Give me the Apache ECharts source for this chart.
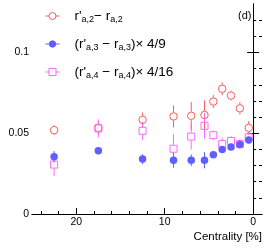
<!DOCTYPE html>
<html>
<head>
<meta charset="utf-8">
<script src="https://cdn.jsdelivr.net/npm/echarts@6/dist/echarts.min.js"></script>
<style>
html,body{margin:0;padding:0;background:#fff;}
#chart{width:266px;height:248px;}
</style>
</head>
<body>
<div id="chart"></div>
<script>
// ---- data ----
const centrality = [22.5, 17.5, 12.5, 9, 7, 5.5, 4.5, 3.5, 2.5, 1.5, 0.5];
const r2Values = [0.0519, 0.0533, 0.0583, 0.0604, 0.0608, 0.0613, 0.0696, 0.0775, 0.0733, 0.0654, 0.0533];
const r2Errors = [0.003, 0.004, 0.0045, 0.0068, 0.0085, 0.009, 0.004, 0.004, 0.003, 0.0038, 0.0042];
const r3Values = [0.0354, 0.0392, 0.0340, 0.0333, 0.0333, 0.0333, 0.0367, 0.0400, 0.0415, 0.0431, 0.0458];
const r3Errors = [0.0036, 0.002, 0.003, 0.0047, 0.0036, 0.005, 0.002, 0.002, 0.002, 0.002, 0.002];
const r4Values = [0.0306, 0.0530, 0.0515, 0.0404, 0.0479, 0.0546, 0.0488, 0.0433, 0.0452, 0.0433, 0.0475];
const r4Errors = [0.007, 0.0056, 0.0055, 0.009, 0.008, 0.008, 0.003, 0.004, 0.003, 0.003, 0.002];
const xMajorTicks = [0, 10, 20];
const xMinorTicks = [2, 4, 6, 8, 12, 14, 16, 18, 22, 24];
const yMajorTicks = [0, 0.05, 0.1];
const yMinorTicks = [0.01, 0.02, 0.03, 0.04, 0.06, 0.07, 0.08, 0.09, 0.11, 0.12];

const RED = '#ff5a5a', BLUE = '#5f5fff', PINK = '#ff66ff';
const FONT = 'Liberation Sans, Arial, Helvetica, sans-serif';

function rows(vals, errs) { return centrality.map((c, i) => [c, vals[i], errs[i]]); }

function errBar(color, gap) {
  return function (params, api) {
    const x = api.value(0), v = api.value(1), e = api.value(2);
    const p = api.coord([x, v]);
    const t = api.coord([x, v + e]);
    const b = api.coord([x, v - e]);
    const children = [];
    if (t[1] < p[1] - gap) children.push({type: 'line', shape: {x1: p[0], y1: t[1], x2: p[0], y2: p[1] - gap}, style: {stroke: color, lineWidth: 1}});
    if (b[1] > p[1] + gap) children.push({type: 'line', shape: {x1: p[0], y1: p[1] + gap, x2: p[0], y2: b[1]}, style: {stroke: color, lineWidth: 1}});
    return {type: 'group', children: children};
  };
}

const labelNames = {
  r2: "{sp|}{m|r'}{s|a,2}{m|− r}{s|a,2}",
  r3: "{sp|}{m|(r'}{s|a,3}{m| − r}{s|a,3}{m|)× 4/9}",
  r4: "{sp|}{m|(r'}{s|a,4}{m| − r}{s|a,4}{m|)× 4/16}"
};

const baseX = {type: 'value', inverse: true, min: -1, max: 25, splitLine: {show: false}};
const baseY = {type: 'value', min: 0, max: 0.13, splitLine: {show: false}};
const lineStyle = {show: true, lineStyle: {color: '#000', width: 1}};

const chart = echarts.init(document.getElementById('chart'), null, {renderer: 'canvas'});
chart.setOption({
  animation: false,
  backgroundColor: '#fff',
  textStyle: {fontFamily: FONT},
  grid: {left: 32, right: 4, top: 4, bottom: 34, containLabel: false, outerBoundsMode: 'none'},
  title: [
    {text: 'Centrality [%]', right: 4, top: 231, padding: 0, textStyle: {fontFamily: FONT, fontSize: 11.5, fontWeight: 'normal', color: '#000'}},
    {text: '(d)', left: 238, top: 10, padding: 0, textStyle: {fontFamily: FONT, fontSize: 11, fontWeight: 'normal', color: '#000'}}
  ],
  legend: {
    orient: 'vertical', left: 45, top: 9, padding: 0, itemGap: 13,
    itemWidth: 14, itemHeight: 7, selectedMode: false,
    data: [
      {name: 'r2', icon: 'path://M0,4 L3.5,4 M10.5,4 L14,4 M7,0.5 A3.5,3.5 0 1 1 6.99,0.5 Z', itemStyle: {color: 'transparent', borderColor: RED, borderWidth: 1}},
      {name: 'r3', icon: 'path://M0,4 L14,4 M7,0.8 A3.2,3.2 0 1 1 6.99,0.8 Z', itemStyle: {color: BLUE, borderColor: BLUE, borderWidth: 1}},
      {name: 'r4', icon: 'path://M0,4 L3.5,4 M10.5,4 L14,4 M3.5,0.5 L10.5,0.5 L10.5,7.5 L3.5,7.5 Z', itemStyle: {color: 'transparent', borderColor: PINK, borderWidth: 1}}
    ],
    formatter: function (n) { return labelNames[n]; },
    textStyle: {
      fontFamily: FONT, fontSize: 13.5, color: '#000',
      rich: {
        sp: {width: 10},
        m: {fontFamily: FONT, fontSize: 13.5, lineHeight: 16, color: '#000'},
        s: {fontFamily: FONT, fontSize: 9, lineHeight: 4, verticalAlign: 'bottom', color: '#000'}
      }
    }
  },
  xAxis: [
    Object.assign({}, baseX, {position: 'bottom', axisLine: lineStyle,
      axisTick: {show: true, inside: true, length: 6, customValues: xMajorTicks, lineStyle: {color: '#000'}},
      axisLabel: {show: true, customValues: xMajorTicks, margin: 3, fontSize: 10.5, fontFamily: FONT, color: '#000'}}),
    Object.assign({}, baseX, {position: 'bottom', axisLine: {show: false},
      axisTick: {show: true, inside: true, length: 3, customValues: xMinorTicks, lineStyle: {color: '#000'}},
      axisLabel: {show: false}}),
    Object.assign({}, baseX, {position: 'top', axisLine: lineStyle, axisTick: {show: false}, axisLabel: {show: false}})
  ],
  yAxis: [
    Object.assign({}, baseY, {position: 'left', axisLine: lineStyle,
      axisTick: {show: true, inside: true, length: 6, customValues: yMajorTicks, lineStyle: {color: '#000'}},
      axisLabel: {show: true, customValues: yMajorTicks, margin: 3, fontSize: 10.5, fontFamily: FONT, color: '#000'}}),
    Object.assign({}, baseY, {position: 'left', axisLine: {show: false},
      axisTick: {show: true, inside: true, length: 3, customValues: yMinorTicks, lineStyle: {color: '#000'}},
      axisLabel: {show: false}}),
    Object.assign({}, baseY, {position: 'right', axisLine: lineStyle,
      axisTick: {show: true, inside: true, length: 6, customValues: yMajorTicks, lineStyle: {color: '#000'}},
      axisLabel: {show: false}}),
    Object.assign({}, baseY, {position: 'right', axisLine: {show: false},
      axisTick: {show: true, inside: true, length: 3, customValues: yMinorTicks, lineStyle: {color: '#000'}},
      axisLabel: {show: false}})
  ],
  series: [
    {type: 'custom', name: 'e2', renderItem: errBar(RED, 4), data: rows(r2Values, r2Errors), z: 1, silent: true},
    {type: 'custom', name: 'e4', renderItem: errBar(PINK, 4), data: rows(r4Values, r4Errors), z: 1, silent: true},
    {type: 'custom', name: 'e3', renderItem: errBar(BLUE, 0), data: rows(r3Values, r3Errors), z: 1, silent: true},
    {type: 'scatter', name: 'r2', symbol: 'circle', symbolSize: 7.5, z: 3,
      itemStyle: {color: 'transparent', borderColor: RED, borderWidth: 1, opacity: 1},
      data: centrality.map((c, i) => [c, r2Values[i]])},
    {type: 'scatter', name: 'r4', symbol: 'rect', symbolSize: 7, z: 3,
      itemStyle: {color: 'transparent', borderColor: PINK, borderWidth: 1, opacity: 1},
      data: centrality.map((c, i) => [c, r4Values[i]])},
    {type: 'scatter', name: 'r3', symbol: 'circle', symbolSize: 7.5, z: 4,
      itemStyle: {color: BLUE, opacity: 1},
      data: centrality.map((c, i) => [c, r3Values[i]])}
  ]
});
</script>
</body>
</html>
